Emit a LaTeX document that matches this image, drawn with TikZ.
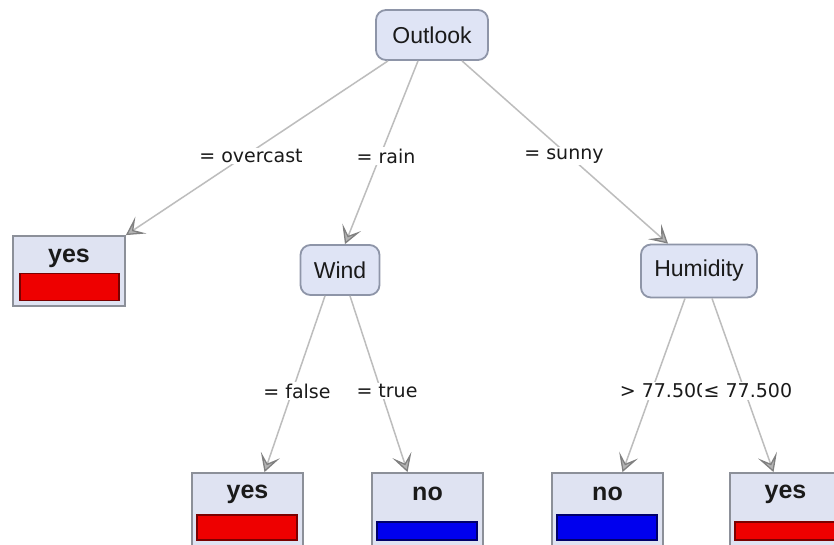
\documentclass[tikz,border=0pt]{standalone}
\usepackage{fontspec}
\setmainfont{Liberation Sans}
\newfontfamily\lblfont{DejaVu Sans}
\usetikzlibrary{arrows.meta}
\definecolor{nodefill}{HTML}{DFE4F5}
\definecolor{nodeline}{HTML}{8E95A8}
\definecolor{leaffill}{HTML}{DFE3F2}
\definecolor{leafline}{HTML}{8C9099}
\definecolor{edgecol}{HTML}{BDBDBD}
\definecolor{tipcol}{HTML}{808080}
\definecolor{txtcol}{HTML}{1A1A1A}
\definecolor{redbar}{HTML}{EE0000}
\definecolor{redline}{HTML}{7A0000}
\definecolor{bluebar}{HTML}{0000EE}
\definecolor{blueline}{HTML}{00006A}
\tikzset{
  inner/.style={draw=nodeline, line width=1.8pt, fill=nodefill, rounded corners=10pt,
    text=txtcol, font=\fontsize{23}{25}\selectfont, inner sep=0pt},
  leafbox/.style={draw=leafline, line width=1.8pt, fill=leaffill, inner sep=0pt},
  leaftext/.style={text=txtcol, font=\fontsize{25}{27}\selectfont\bfseries, inner sep=0pt},
  redbox/.style={draw=redline, line width=1.2pt, fill=redbar, inner sep=0pt},
  bluebox/.style={draw=blueline, line width=1.2pt, fill=bluebar, inner sep=0pt},
  edge/.style={draw=edgecol, line width=1.5pt,
    -{Stealth[length=18pt,width=20pt,inset=9pt,fill=tipcol!60,color=tipcol,line width=1.3pt]}},
  elabel/.style={fill=white, text=txtcol, font=\lblfont\fontsize{19}{21}\selectfont, inner sep=1.5pt}
}
\begin{document}
\begin{tikzpicture}[x=1pt,y=-1pt]
\clip (0,0) rectangle (834,545);
\fill[white] (0,0) rectangle (834,545);
% internal nodes
\node[inner, minimum width=112pt, minimum height=50pt] (outlook) at (432,35) {Outlook};
\node[inner, minimum width=79pt, minimum height=50pt] (wind) at (340,270) {Wind};
\node[inner, minimum width=116pt, minimum height=53pt] (humid) at (699,271) {Humidity};
% leaves
\node[leafbox, minimum width=112pt, minimum height=70pt] (yes1) at (69,271) {};
\node[leafbox, minimum width=111pt, minimum height=80pt] (yes2) at (247.5,513) {};
\node[leafbox, minimum width=111pt, minimum height=80pt] (no1) at (427.5,513) {};
\node[leafbox, minimum width=111pt, minimum height=80pt] (no2) at (607.5,513) {};
\node[leafbox, minimum width=111pt, minimum height=80pt] (yes3) at (785.5,513) {};
% edges
\draw[edge] ([xshift=-44pt]outlook.south) -- (yes1.north east);
\draw[edge] ([xshift=-14pt]outlook.south) -- ([xshift=5pt]wind.north);
\draw[edge] ([xshift=30pt]outlook.south) -- ([xshift=-31pt]humid.north);
\draw[edge] ([xshift=-15pt]wind.south) -- ([xshift=17pt]yes2.north);
\draw[edge] ([xshift=10pt]wind.south) -- ([xshift=-20pt]no1.north);
\draw[edge] ([xshift=-14pt]humid.south) -- ([xshift=15pt]no2.north);
\draw[edge] ([xshift=13pt]humid.south) -- ([xshift=-12pt]yes3.north);
% edge labels
\node[elabel] (l1) at (251,156) {= overcast};
\node[elabel] (l2) at (386,156) {= rain};
\node[elabel] (l3) at (564,156) {= sunny};
\node[elabel] (l4) at (297,391) {= false};
\node[elabel] (l5) at (387,391) {= true};
\node[elabel, anchor=east] (l6) at (710,391) {> 77.500};
\node[elabel, anchor=west] (l7) at (702,391) {≤ 77.500};
% leaf contents
\node[leaftext] (t1) at (69,258) {yes};
\node[redbox, minimum width=99pt, minimum height=27pt] (b1) at (69.5,287) {};
\node[leaftext] (t2) at (247.5,494) {yes};
\node[redbox, minimum width=100pt, minimum height=25pt] (b2) at (247,527.5) {};
\node[leaftext] (t3) at (427.5,494) {no};
\node[bluebox, minimum width=100pt, minimum height=18pt] (b3) at (427,531) {};
\node[leaftext] (t4) at (607.5,494) {no};
\node[bluebox, minimum width=100pt, minimum height=25pt] (b4) at (607,527.5) {};
\node[leaftext] (t5) at (785.5,494) {yes};
\node[redbox, minimum width=100pt, minimum height=18pt] (b5) at (785,531) {};
\end{tikzpicture}
\end{document}
